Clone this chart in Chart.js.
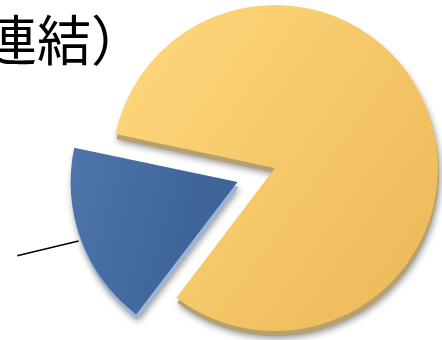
<!DOCTYPE html>
<html lang="ja">
<head>
<meta charset="utf-8">
<title>売上構成（連結）</title>
<script src="https://cdn.jsdelivr.net/npm/chart.js@4/dist/chart.umd.min.js"></script>
<style>
html, body { margin: 0; padding: 0; background: #fff; overflow: hidden; }
#wrap { width: 442px; height: 340px; }
</style>
</head>
<body>
<div id="wrap"><canvas id="c" width="442" height="340"></canvas></div>
<script>
// Segment shares (percent of consolidated total)
const categories = ['主力事業', 'その他事業'];
const shares = [82, 18];
const titleText = '連結）';

// Face colours (light edge -> dark edge) and the colour of the slab's side
const faceLight = ['#FDD67A', '#547CB0'];
const faceDark = ['#EDBB5A', '#3E6498'];
const sideColors = ['#B6A070', '#9CB4D6'];
const explode = [0, 160];
const pieRadius = 163;

function faceGradient(context) {
  const chart = context.chart;
  const area = chart.chartArea;
  const i = context.dataIndex;
  if (!area) return faceLight[i];
  const cx = (area.left + area.right) / 2;
  const cy = (area.top + area.bottom) / 2;
  const r = pieRadius;
  const g = i === 0
    ? chart.ctx.createLinearGradient(cx - r * 0.8, cy - r * 0.8, cx + r, cy + r * 0.5)
    : chart.ctx.createLinearGradient(cx - 215, cy - 20, cx - 40, cy + 30);
  g.addColorStop(0, faceLight[i]);
  g.addColorStop(1, faceDark[i]);
  return g;
}

// Draws a shifted, shadowed copy of each slice under the faces to give them thickness
const extrusion = {
  id: 'extrusion',
  beforeDatasetsDraw(chart) {
    const ctx = chart.ctx;
    chart.getDatasetMeta(0).data.forEach((arc, i) => {
      const ghost = Object.create(arc);
      ghost.options = Object.assign({}, arc.options, { backgroundColor: sideColors[i], borderWidth: 0 });
      ctx.save();
      ctx.translate(1, 5);
      ctx.shadowColor = 'rgba(0,0,0,0.45)';
      ctx.shadowBlur = 7;
      ctx.shadowOffsetX = 1;
      ctx.shadowOffsetY = 2;
      ghost.draw(ctx);
      ctx.restore();
    });
  }
};

// Leader line from the exploded slice towards its label
const leader = {
  id: 'leader',
  afterDatasetsDraw(chart) {
    const arc = chart.getDatasetMeta(0).data[1];
    const o = arc.options;
    const mid = (arc.startAngle + arc.endAngle) / 2;
    const off = (o.offset || 0) / 4;
    const fix = 1 - Math.sin(Math.min(Math.PI, arc.circumference));
    const shift = off + off * fix;
    const r = arc.outerRadius + off * fix;
    const x0 = arc.x + Math.cos(mid) * (shift + r - 1);
    const y0 = arc.y + Math.sin(mid) * (shift + r - 1);
    const a = mid + 7 * Math.PI / 180;
    const len = 63;
    const ctx = chart.ctx;
    ctx.save();
    ctx.strokeStyle = '#000';
    ctx.lineWidth = 1.5;
    ctx.beginPath();
    ctx.moveTo(x0, y0);
    ctx.lineTo(x0 + Math.cos(a) * len, y0 + Math.sin(a) * len);
    ctx.stroke();
    ctx.restore();
  }
};

// Heading text in the top-left corner
const heading = {
  id: 'heading',
  afterDraw(chart) {
    const ctx = chart.ctx;
    ctx.save();
    ctx.fillStyle = '#000';
    ctx.font = '54px "Noto Sans CJK JP", sans-serif';
    ctx.textAlign = 'left';
    ctx.textBaseline = 'alphabetic';
    ctx.fillText(titleText, -17, 61);
    ctx.restore();
  }
};

new Chart(document.getElementById('c'), {
  type: 'pie',
  data: {
    labels: categories,
    datasets: [{
      data: shares,
      backgroundColor: faceGradient,
      borderWidth: 0,
      offset: explode,
      clip: false
    }]
  },
  options: {
    responsive: false,
    animation: false,
    rotation: -78,
    radius: pieRadius,
    layout: { padding: { left: 108, right: 0, top: 0, bottom: 4 } },
    plugins: {
      legend: { display: false },
      tooltip: { enabled: false },
      title: { display: false }
    }
  },
  plugins: [extrusion, leader, heading]
});
</script>
</body>
</html>
